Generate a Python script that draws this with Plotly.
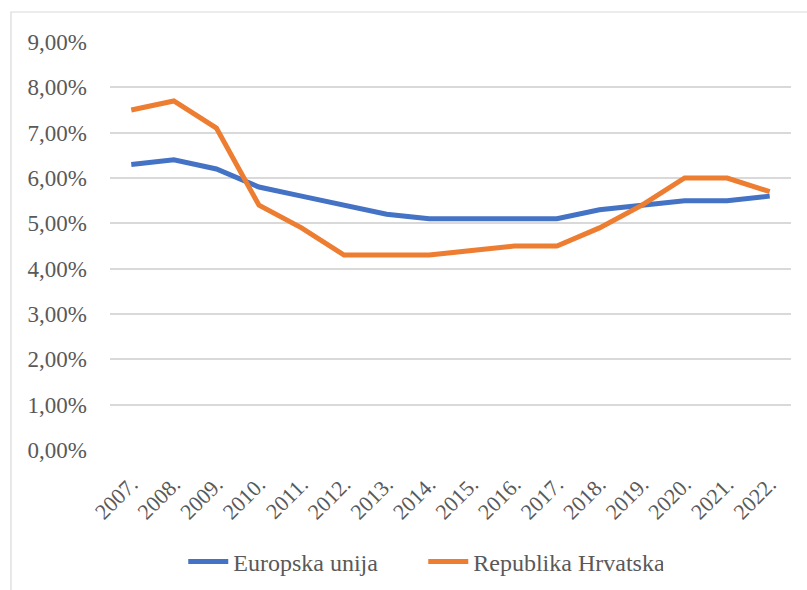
import plotly.graph_objects as go

years = ["2007.", "2008.", "2009.", "2010.", "2011.", "2012.", "2013.", "2014.",
         "2015.", "2016.", "2017.", "2018.", "2019.", "2020.", "2021.", "2022."]
eu = [6.3, 6.4, 6.2, 5.8, 5.6, 5.4, 5.2, 5.1, 5.1, 5.1, 5.1, 5.3, 5.4, 5.5, 5.5, 5.6]
hr = [7.5, 7.7, 7.1, 5.4, 4.9, 4.3, 4.3, 4.3, 4.4, 4.5, 4.5, 4.9, 5.4, 6.0, 6.0, 5.7]
y_ticks = [0, 1, 2, 3, 4, 5, 6, 7, 8, 9]
y_labels = [f"{v},00%" for v in y_ticks]

font_family = "Times New Roman, Liberation Serif, serif"
fig = go.Figure()
fig.add_trace(go.Scatter(x=years, y=eu, mode="lines", name="Europska unija",
                         line=dict(color="#4472C4", width=5)))
fig.add_trace(go.Scatter(x=years, y=hr, mode="lines", name="Republika Hrvatska",
                         line=dict(color="#ED7D31", width=5)))

fig.update_layout(
    width=807, height=590,
    margin=dict(l=110, r=16, t=42, b=140, autoexpand=False),
    paper_bgcolor="white", plot_bgcolor="white",
    font=dict(family=font_family, size=22, color="#595959"),
    showlegend=True,
    legend=dict(orientation="h", x=0.46, xanchor="center", y=-0.2745, yanchor="middle",
                font=dict(family=font_family, size=24, color="#595959"),
                itemwidth=40, entrywidth=185, entrywidthmode="pixels"),
    xaxis=dict(type="category", range=[-0.5, 15.5], tickangle=-45, showgrid=False,
               zeroline=False, showline=False, ticks="", ticklabelstandoff=16,
               automargin=False,
               tickfont=dict(family=font_family, size=22, color="#595959")),
    yaxis=dict(range=[0, 9], tickvals=y_ticks, ticktext=y_labels,
               showgrid=True, gridcolor="#d9d9d9", gridwidth=1.5,
               zeroline=False, showline=False, ticks="", ticklabelstandoff=22,
               automargin=False,
               tickfont=dict(family=font_family, size=23, color="#595959")),
    shapes=[dict(type="rect", xref="paper", yref="paper",
                 x0=-0.1454, x1=1.2, y0=-0.6, y1=1.0735,
                 line=dict(color="#d9d9d9", width=1.2), layer="below")],
)

fig.write_html("out.html", config={"displayModeBar": False},
               post_script="document.body.style.margin='0';")
